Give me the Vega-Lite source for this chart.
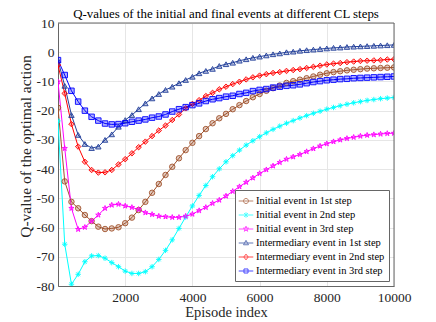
{
"$schema": "https://vega.github.io/schema/vega-lite/v6.json",
"width": 336, "height": 263,
"autosize": {"type": "none"},
"padding": {"left": 58, "top": 23, "right": 42, "bottom": 36},
"title": {"text": "Q-values of the initial and final events at different CL steps", "frame": "group", "anchor": "middle", "offset": -5, "fontSize": 12.9, "fontWeight": "normal", "font": "Liberation Serif", "color": "#000000"},
"data": {"values": [
{"e":0,"i1":-19.0,"i2":-23.5,"i3":-10.1,"m1":-2.8,"m2":-4.4,"m3":-2.7},
{"e":200,"i1":-44.2,"i2":-65.7,"i3":-32.9,"m1":-11.5,"m2":-14.1,"m3":-7.8},
{"e":400,"i1":-51.2,"i2":-79.4,"i3":-53.4,"m1":-21.5,"m2":-24.6,"m3":-13.2},
{"e":600,"i1":-53.4,"i2":-76.0,"i3":-60.6,"m1":-28.3,"m2":-32.3,"m3":-16.9},
{"e":800,"i1":-55.7,"i2":-71.7,"i3":-59.9,"m1":-31.4,"m2":-37.5,"m3":-20.0},
{"e":1000,"i1":-57.8,"i2":-69.7,"i3":-57.8,"m1":-32.8,"m2":-40.3,"m3":-22.1},
{"e":1200,"i1":-59.7,"i2":-69.6,"i3":-55.7,"m1":-32.3,"m2":-41.2,"m3":-23.4},
{"e":1400,"i1":-60.5,"i2":-70.5,"i3":-53.4,"m1":-30.0,"m2":-41.1,"m3":-24.4},
{"e":1600,"i1":-60.3,"i2":-72.0,"i3":-52.3,"m1":-28.1,"m2":-40.3,"m3":-24.7},
{"e":1800,"i1":-59.9,"i2":-73.4,"i3":-52.0,"m1":-25.5,"m2":-38.4,"m3":-24.6},
{"e":2000,"i1":-58.5,"i2":-74.9,"i3":-52.6,"m1":-23.2,"m2":-36.6,"m3":-24.3},
{"e":2200,"i1":-56.6,"i2":-75.7,"i3":-53.1,"m1":-21.5,"m2":-34.6,"m3":-23.8},
{"e":2400,"i1":-54.0,"i2":-75.7,"i3":-53.8,"m1":-19.5,"m2":-32.5,"m3":-23.4},
{"e":2600,"i1":-51.2,"i2":-75.1,"i3":-54.9,"m1":-17.5,"m2":-30.6,"m3":-23.0},
{"e":2800,"i1":-48.1,"i2":-73.4,"i3":-55.5,"m1":-15.8,"m2":-28.7,"m3":-22.4},
{"e":3000,"i1":-45.1,"i2":-70.9,"i3":-56.1,"m1":-14.3,"m2":-26.8,"m3":-22.0},
{"e":3200,"i1":-42.0,"i2":-67.8,"i3":-56.3,"m1":-12.9,"m2":-25.1,"m3":-21.3},
{"e":3400,"i1":-39.2,"i2":-64.2,"i3":-56.5,"m1":-11.8,"m2":-23.2,"m3":-20.3},
{"e":3600,"i1":-36.3,"i2":-60.3,"i3":-56.5,"m1":-10.6,"m2":-21.3,"m3":-19.5},
{"e":3800,"i1":-33.5,"i2":-56.4,"i3":-56.1,"m1":-9.5,"m2":-19.2,"m3":-18.8},
{"e":4000,"i1":-31.0,"i2":-52.6,"i3":-55.4,"m1":-8.4,"m2":-17.7,"m3":-18.1},
{"e":4200,"i1":-28.7,"i2":-49.0,"i3":-54.2,"m1":-7.2,"m2":-16.4,"m3":-17.5},
{"e":4400,"i1":-26.3,"i2":-45.6,"i3":-53.1,"m1":-6.4,"m2":-15.0,"m3":-16.7},
{"e":4600,"i1":-24.3,"i2":-42.6,"i3":-51.7,"m1":-5.7,"m2":-13.9,"m3":-16.1},
{"e":4800,"i1":-22.6,"i2":-39.9,"i3":-50.6,"m1":-4.7,"m2":-12.7,"m3":-15.7},
{"e":5000,"i1":-21.1,"i2":-37.5,"i3":-49.2,"m1":-4.1,"m2":-11.8,"m3":-15.2},
{"e":5200,"i1":-19.5,"i2":-35.4,"i3":-47.6,"m1":-3.6,"m2":-10.9,"m3":-14.9},
{"e":5400,"i1":-18.1,"i2":-33.5,"i3":-46.0,"m1":-2.9,"m2":-10.1,"m3":-14.3},
{"e":5600,"i1":-16.7,"i2":-31.8,"i3":-44.5,"m1":-2.4,"m2":-9.3,"m3":-13.9},
{"e":5800,"i1":-15.4,"i2":-30.3,"i3":-43.0,"m1":-1.9,"m2":-8.6,"m3":-13.3},
{"e":6000,"i1":-14.3,"i2":-28.9,"i3":-41.5,"m1":-1.5,"m2":-8.0,"m3":-12.9},
{"e":6200,"i1":-13.2,"i2":-27.6,"i3":-40.2,"m1":-1.1,"m2":-7.5,"m3":-12.6},
{"e":6400,"i1":-12.3,"i2":-26.4,"i3":-38.9,"m1":-0.7,"m2":-7.1,"m3":-12.1},
{"e":6600,"i1":-11.4,"i2":-25.3,"i3":-37.7,"m1":-0.4,"m2":-6.8,"m3":-11.8},
{"e":6800,"i1":-10.5,"i2":-24.3,"i3":-36.6,"m1":0.0,"m2":-6.4,"m3":-11.5},
{"e":7000,"i1":-9.9,"i2":-23.4,"i3":-35.8,"m1":0.2,"m2":-6.1,"m3":-11.3},
{"e":7200,"i1":-9.4,"i2":-22.5,"i3":-35.0,"m1":0.5,"m2":-5.8,"m3":-11.0},
{"e":7400,"i1":-8.9,"i2":-21.7,"i3":-34.0,"m1":0.7,"m2":-5.4,"m3":-10.6},
{"e":7600,"i1":-8.3,"i2":-20.9,"i3":-33.0,"m1":0.9,"m2":-5.0,"m3":-10.2},
{"e":7800,"i1":-7.7,"i2":-20.2,"i3":-32.1,"m1":1.1,"m2":-4.6,"m3":-9.9},
{"e":8000,"i1":-7.2,"i2":-19.5,"i3":-31.3,"m1":1.3,"m2":-4.2,"m3":-9.6},
{"e":8200,"i1":-6.8,"i2":-18.9,"i3":-30.6,"m1":1.5,"m2":-3.9,"m3":-9.4},
{"e":8400,"i1":-6.5,"i2":-18.3,"i3":-30.0,"m1":1.6,"m2":-3.7,"m3":-9.2},
{"e":8600,"i1":-6.2,"i2":-17.8,"i3":-29.5,"m1":1.8,"m2":-3.4,"m3":-9.1},
{"e":8800,"i1":-6.0,"i2":-17.3,"i3":-29.1,"m1":1.9,"m2":-3.2,"m3":-8.9},
{"e":9000,"i1":-5.8,"i2":-16.9,"i3":-28.7,"m1":2.0,"m2":-3.0,"m3":-8.8},
{"e":9200,"i1":-5.6,"i2":-16.5,"i3":-28.4,"m1":2.1,"m2":-2.9,"m3":-8.7},
{"e":9400,"i1":-5.5,"i2":-16.2,"i3":-28.2,"m1":2.2,"m2":-2.8,"m3":-8.6},
{"e":9600,"i1":-5.4,"i2":-15.9,"i3":-28.0,"m1":2.3,"m2":-2.7,"m3":-8.5},
{"e":9800,"i1":-5.3,"i2":-15.7,"i3":-27.8,"m1":2.4,"m2":-2.5,"m3":-8.4},
{"e":10000,"i1":-5.2,"i2":-15.5,"i3":-27.7,"m1":2.5,"m2":-2.4,"m3":-8.3}
]},
"transform": [{"fold": ["i1","i2","i3","m1","m2","m3"], "as": ["s","q"]}],
"encoding": {
"x": {"field": "e", "type": "quantitative", "scale": {"domain": [0, 10000], "nice": false}, "axis": {"values": [2000,4000,6000,8000,10000], "title": "Episode index", "labelExpr": "'' + datum.value", "titlePadding": 2, "labelFlush": false}},
"y": {"field": "q", "type": "quantitative", "scale": {"domain": [-80, 10], "nice": false, "zero": false}, "axis": {"values": [-80,-70,-60,-50,-40,-30,-20,-10,0,10], "title": "Q-value of the optimal action", "labelExpr": "'' + datum.value", "labelFlush": false, "titleFontSize": 15.5, "titleX": -33, "titleY": 123, "titleBaseline": "middle"}}
},
"layer": [
{
"mark": {"type": "line", "strokeWidth": 1, "clip": true},
"encoding": {
"color": {"field": "s", "type": "nominal", "scale": {"domain": ["i1","i2","i3","m1","m2","m3"], "range": ["#a0522d","#00ffff","#ff00ff","#23409a","#ff0000","#0000ff"]}, "legend": null}
}
},
{
"mark": {"type": "point", "filled": false, "size": 30, "strokeWidth": 0.9, "fillOpacity": 0.3, "opacity": 1, "clip": true},
"encoding": {
"shape": {"field": "s", "type": "nominal", "scale": {"domain": ["i1","i2","i3","m1","m2","m3"], "range": ["circle", "M-0.7,-0.7L0.7,0.7M-0.7,0.7L0.7,-0.7M0,-1V1M-1,0H1", "M0,-1L0.225,-0.309L0.951,-0.309L0.363,0.118L0.588,0.809L0,0.382L-0.588,0.809L-0.363,0.118L-0.951,-0.309L-0.225,-0.309Z", "triangle-up", "diamond", "square"]}, "legend": null},
"stroke": {"field": "s", "type": "nominal", "scale": {"domain": ["i1","i2","i3","m1","m2","m3"], "range": ["#a0522d","#00ffff","#ff00ff","#23409a","#ff0000","#0000ff"]}, "legend": null},
"fill": {"field": "s", "type": "nominal", "scale": {"domain": ["i1","i2","i3","m1","m2","m3"], "range": ["#a0522d","#00ffff","#ff00ff","#23409a","#ff0000","#0000ff"]}, "legend": null}
}
},
{
"data": {"values": [{"edge": 10}]},
"mark": {"type": "rule", "stroke": "#666666", "strokeWidth": 1},
"encoding": {
"x": null,
"y": {"field": "edge", "type": "quantitative"}
}
},
{
"data": {"values": [{"edge": 10000}]},
"mark": {"type": "rule", "stroke": "#666666", "strokeWidth": 1},
"encoding": {
"y": null,
"x": {"field": "edge", "type": "quantitative"}
}
},
{
"transform": [{"filter": "false"}],
"mark": {"type": "point", "filled": false, "strokeWidth": 1},
"encoding": {
"stroke": {"field": "s", "type": "nominal", "scale": {"domain": ["i1","i2","i3","m1","m2","m3"], "range": ["#a0522d","#00ffff","#ff00ff","#23409a","#ff0000","#0000ff"]}, "legend": {"title": null, "labelExpr": "{'i1':'Initial event in 1st step','i2':'Initial event in 2nd step','i3':'Initial event in 3rd step','m1':'Intermediary event in 1st step','m2':'Intermediary event in 2nd step','m3':'Intermediary event in 3rd step'}[datum.label]"}},
"shape": {"field": "s", "type": "nominal", "scale": {"domain": ["i1","i2","i3","m1","m2","m3"], "range": ["M-1.15,0H1.15M0.4,0A0.4,0.4,0,1,1,-0.4,0A0.4,0.4,0,1,1,0.4,0Z", "M-1.15,0H1.15M-0.3,-0.3L0.3,0.3M-0.3,0.3L0.3,-0.3M0,-0.42V0.42", "M-1.15,0H1.15M0,-0.45L0.101,-0.139L0.428,-0.139L0.163,0.053L0.265,0.364L0,0.172L-0.265,0.364L-0.163,0.053L-0.428,-0.139L-0.101,-0.139Z", "M-1.15,0H1.15M0,-0.42L0.4,0.28L-0.4,0.28Z", "M-1.15,0H1.15M0,-0.45L0.35,0L0,0.45L-0.35,0Z", "M-1.15,0H1.15M-0.32,-0.32H0.32V0.32H-0.32Z"]}, "legend": {"title": null, "labelExpr": "{'i1':'Initial event in 1st step','i2':'Initial event in 2nd step','i3':'Initial event in 3rd step','m1':'Intermediary event in 1st step','m2':'Intermediary event in 2nd step','m3':'Intermediary event in 3rd step'}[datum.label]"}}
}
}
],
"resolve": {"scale": {"color": "independent", "stroke": "independent", "fill": "independent", "shape": "independent"}},
"config": {
"font": "Liberation Serif",
"view": {"stroke": "#666666", "strokeWidth": 1},
"axis": {"domain": true, "domainColor": "#666666", "domainWidth": 1, "ticks": false, "grid": true, "gridColor": "#e6e6e6", "labelFont": "Liberation Serif", "labelFontSize": 13.5, "labelColor": "#262626", "labelPadding": 4, "titleFont": "Liberation Serif", "titleFontSize": 14.5, "titleFontWeight": "normal", "titleColor": "#262626"},
"legend": {"orient": "bottom-right", "offset": 5, "strokeColor": "#666666", "fillColor": "#ffffff", "padding": 4, "labelFont": "Liberation Serif", "labelFontSize": 10.5, "labelColor": "#000000", "symbolSize": 160, "symbolStrokeWidth": 1, "rowPadding": 1, "labelOffset": 3, "cornerRadius": 0}
}
}
